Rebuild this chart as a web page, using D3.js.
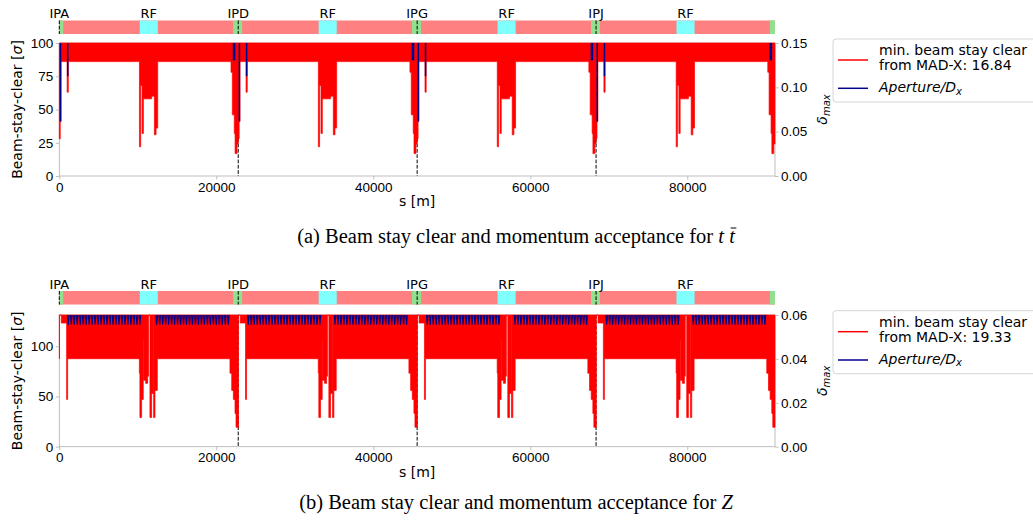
<!DOCTYPE html>
<html>
<head>
<meta charset="utf-8">
<script src="https://cdn.jsdelivr.net/npm/d3@7"></script>
<style>
  body { margin: 0; background: #fff; }
  svg { display: block; font-family: 'DejaVu Sans', sans-serif; }
  .tick text { font-size: 13.5px; fill: #000; }
  .tick line { stroke: #b0b0b0; stroke-width: 0.8; }
  .spine { stroke: #b0b0b0; stroke-width: 0.8; fill: none; }
  .label { font-size: 14px; fill: #000; }
  .strip-label { font-size: 13px; fill: #000; }
  .caption { font-family: 'Liberation Serif', 'Times New Roman', serif; font-size: 20.5px; fill: #000; }
</style>
</head>
<body>
<svg id="figure" width="1033" height="521"></svg>
<script>
// ring layout, positions in m
const circumference = 91174;
const ipPositions = [0, 22793, 45587, 68380, 91174];
const ipNames = ['IPA', 'IPD', 'IPG', 'IPJ'];
const rfPositions = [11397, 34190, 56984, 79777];
const irExtent = [-650, 500];
const rfExtent = [-1150, 1150];
const xTicks = [0, 20000, 40000, 60000, 80000];

// (a) ttbar: lower edge of the beam-stay-clear band [sigma] as steps [offset from IP / RF, value]
// values above the axis top leave the column white
const ttArcLow = 86;
const ttIrDips = [[-920, 78], [-750, 46], [-500, 32], [-400, 16.84], [-150, 24], [0, 28], [120, 41], [230, 86], [1000, 63], [1150, 86]];
const ttRfDips = [[-1190, 22], [-1030, 68], [-850, 32], [-684, 58], [370, 60], [718, 31], [930, 36], [1142, 86]];
// Aperture/Dx lines near each IP: [offset, delta]
const ttAperture = [[-600, 0.1305], [-460, 0.1305], [150, 0.0615], [1070, 0.1125]];
const ttBscTicks = [0, 25, 50, 75, 100];
const ttDeltaTicks = [0, 0.05, 0.10, 0.15];
const ttMinBsc = '16.84';

// (b) Z
const zArcLow = 87.5;
const zIrDips = [[-1050, 73], [-830, 56], [-620, 47], [-410, 33], [-280, 19.33], [30, 140], [250, 123], [930, 47], [1060, 87.5]];
const zRfDips = [[-1200, 73], [-1130, 29], [-910, 47], [-700, 106], [-650, 66], [-400, 63], [-144, 70], [-30, 140], [150, 29], [365, 53], [577, 140], [620, 29], [790, 56], [1090, 87.5]];
// Aperture/Dx comb in the arcs: segment starts and cell offsets inside a segment
const zCombStarts = [1146, 12408, 24076, 35121, 46880, 58051, 69732, 80764];
const zCombOffsets = [0, 380, 760, 1140, 1520, 1900, 2280, 2660, 3040, 3420, 3800, 4180, 4560,
  4940, 5320, 5700, 6080, 6460, 6840, 7220, 7600, 7980, 8360, 8740, 9120];
const zCombDepth = 0.0556;
const zBscTicks = [0, 50, 100];
const zDeltaTicks = [0, 0.02, 0.04, 0.06];
const zMinBsc = '19.33';

class ApertureChart {
    constructor(_config, _data) {
        this.config = {
            parentElement: _config.parentElement,
            stripTop: _config.stripTop,
            plotTop: _config.plotTop,
            plotBottom: _config.plotBottom,
            legendTop: _config.legendTop,
            bscMax: _config.bscMax,
            deltaMax: _config.deltaMax,
            left: 59.3,
            right: 775,
            stripHeight: 13.5
        };
        this.data = _data;
        this.initVis();
    }

    initVis() {
        let vis = this;
        const c = vis.config;

        vis.g = d3.select(c.parentElement).append('g');

        vis.xScale = d3.scaleLinear().domain([0, circumference]).range([c.left, c.right]);
        vis.yScale = d3.scaleLinear().domain([0, c.bscMax]).range([c.plotBottom, c.plotTop]);
        vis.y2Scale = d3.scaleLinear().domain([0, c.deltaMax]).range([c.plotBottom, c.plotTop]);

        vis.updateVis();
    }

    // merge the IP and RF dips into one step profile along the ring
    updateVis() {
        let vis = this;
        let pts = [];
        ipPositions.forEach(p => vis.data.irDips.forEach(([o, v]) => pts.push([p + o, v])));
        rfPositions.forEach(p => vis.data.rfDips.forEach(([o, v]) => pts.push([p + o, v])));
        pts.sort((a, b) => a[0] - b[0]);
        pts = pts.filter(d => d[0] >= 0 && d[0] <= circumference);
        pts.unshift([0, vis.data.arcLow]);
        pts.push([circumference, pts[pts.length - 1][1]]);
        vis.profile = pts;

        vis.renderVis();
    }

    renderVis() {
        let vis = this;
        const c = vis.config;
        const x = vis.xScale, y = vis.yScale, y2 = vis.y2Scale;

        // lattice strip
        const strip = vis.g.append('g');
        strip.append('rect')
            .attr('x', x(0)).attr('y', c.stripTop)
            .attr('width', x(circumference) - x(0)).attr('height', c.stripHeight)
            .attr('fill', '#ff8080');
        strip.selectAll('.rf').data(rfPositions).join('rect')
            .attr('x', d => x(d + rfExtent[0])).attr('y', c.stripTop)
            .attr('width', d => x(d + rfExtent[1]) - x(d + rfExtent[0])).attr('height', c.stripHeight)
            .attr('fill', '#80ffff');
        strip.selectAll('.ir').data(ipPositions).join('rect')
            .attr('x', d => x(Math.max(0, d + irExtent[0])))
            .attr('y', c.stripTop)
            .attr('width', d => x(Math.min(circumference, d + irExtent[1])) - x(Math.max(0, d + irExtent[0])))
            .attr('height', c.stripHeight)
            .attr('fill', '#90e090');
        strip.selectAll('.ipline').data(ipNames).join('line')
            .attr('x1', (d, i) => x(ipPositions[i])).attr('x2', (d, i) => x(ipPositions[i]))
            .attr('y1', c.stripTop).attr('y2', c.stripTop + c.stripHeight)
            .attr('stroke', '#000').attr('stroke-width', 1).attr('stroke-dasharray', '3.7,1.6');
        strip.selectAll('.iplabel').data(ipNames).join('text')
            .attr('class', 'strip-label')
            .attr('x', (d, i) => x(ipPositions[i])).attr('y', c.stripTop - 2.5)
            .attr('text-anchor', 'middle').text(d => d);
        strip.selectAll('.rflabel').data(rfPositions).join('text')
            .attr('class', 'strip-label')
            .attr('x', d => x(d)).attr('y', c.stripTop - 2.5)
            .attr('text-anchor', 'middle').text('RF');

        // spines
        vis.g.append('rect').attr('class', 'spine')
            .attr('x', c.left).attr('y', c.plotTop)
            .attr('width', c.right - c.left).attr('height', c.plotBottom - c.plotTop);

        // dashed IP markers (not at s = 0), behind the curves
        vis.g.selectAll('.ipdash').data(ipPositions.slice(1, 4)).join('line')
            .attr('x1', d => x(d)).attr('x2', d => x(d))
            .attr('y1', c.plotTop).attr('y2', c.plotBottom)
            .attr('stroke', '#000').attr('stroke-width', 1).attr('stroke-dasharray', '3.7,1.6');

        // min. beam stay clear
        const area = d3.area()
            .curve(d3.curveStepAfter)
            .x(d => x(d[0]))
            .y0(d => y(Math.min(d[1], c.bscMax)))
            .y1(y(c.bscMax));
        vis.g.append('path')
            .datum(vis.profile)
            .attr('d', area)
            .attr('fill', '#ff0000')
            .attr('stroke', '#ff0000')
            .attr('stroke-width', 0.7);

        // Aperture/Dx
        const blue = '#00008b';
        if (vis.data.aperture) {
            const lines = [];
            ipPositions.forEach(p => vis.data.aperture.forEach(([o, v]) => {
                if (p + o >= 0 && p + o <= circumference) lines.push([p + o, v]);
            }));
            vis.g.selectAll('.ap').data(lines).join('line')
                .attr('x1', d => x(d[0])).attr('x2', d => x(d[0]))
                .attr('y1', y2(c.deltaMax)).attr('y2', d => y2(d[1]))
                .attr('stroke', blue).attr('stroke-width', 1.5);
        }
        if (vis.data.combStarts) {
            const cells = [];
            vis.data.combStarts.forEach(s0 => vis.data.combOffsets.forEach(o => cells.push(s0 + o)));
            vis.g.selectAll('.comb').data(cells).join('path')
                .attr('d', d => `M${x(d - 100)},${y2(c.deltaMax)}L${x(d)},${y2(vis.data.combDepth)}L${x(d + 100)},${y2(c.deltaMax)}`)
                .attr('fill', 'none').attr('stroke', blue).attr('stroke-width', 1.2);
        }

        // axes
        const xAxis = d3.axisBottom(x).tickValues(xTicks).tickSize(3.5).tickPadding(2.5).tickFormat(d3.format('d'));
        const yAxis = d3.axisLeft(y).tickValues(vis.data.bscTicks).tickSize(3.5).tickPadding(2.5);
        const y2Axis = d3.axisRight(y2).tickValues(vis.data.deltaTicks).tickSize(3.5).tickPadding(2.5).tickFormat(d3.format('.2f'));
        vis.g.append('g').attr('transform', `translate(0,${c.plotBottom})`).call(xAxis).call(g => g.select('.domain').remove());
        vis.g.append('g').attr('transform', `translate(${c.left},0)`).call(yAxis).call(g => g.select('.domain').remove());
        vis.g.append('g').attr('transform', `translate(${c.right},0)`).call(y2Axis).call(g => g.select('.domain').remove());
        vis.g.selectAll('.tick text').attr('font-family', null).attr('font-size', null);

        const midY = (c.plotTop + c.plotBottom) / 2;
        vis.g.append('text').attr('class', 'label')
            .attr('x', (c.left + c.right) / 2).attr('y', c.plotBottom + 30)
            .attr('text-anchor', 'middle').text('s [m]');
        const yl = vis.g.append('text').attr('class', 'label')
            .attr('transform', `translate(22,${midY}) rotate(-90)`)
            .attr('text-anchor', 'middle');
        yl.append('tspan').text('Beam-stay-clear [');
        yl.append('tspan').attr('font-style', 'italic').text('σ');
        yl.append('tspan').text(']');
        const rl = vis.g.append('text').attr('class', 'label')
            .attr('transform', `translate(827,${midY}) rotate(-90)`)
            .attr('text-anchor', 'middle');
        rl.append('tspan').attr('font-style', 'italic').text('δ');
        rl.append('tspan').attr('font-style', 'italic').attr('font-size', '10px').attr('dy', 2.5).text('max');

        // legend
        const lg = vis.g.append('g').attr('transform', `translate(833,${c.legendTop})`);
        lg.append('rect').attr('x', 0).attr('y', 0).attr('width', 230).attr('height', 63).attr('rx', 3)
            .attr('fill', '#fff').attr('fill-opacity', 0.8).attr('stroke', '#d6d6d6').attr('stroke-width', 1);
        lg.append('line').attr('x1', 5).attr('x2', 35).attr('y1', 21).attr('y2', 21)
            .attr('stroke', '#ff0000').attr('stroke-width', 1.5);
        lg.append('line').attr('x1', 5).attr('x2', 35).attr('y1', 49.3).attr('y2', 49.3)
            .attr('stroke', blue).attr('stroke-width', 1.5);
        lg.append('text').attr('class', 'label').attr('x', 46).attr('y', 16.2).text('min. beam stay clear');
        lg.append('text').attr('class', 'label').attr('x', 46).attr('y', 31.2).text('from MAD-X: ' + vis.data.minBsc);
        const ap = lg.append('text').attr('class', 'label').attr('x', 46).attr('y', 53).attr('font-style', 'italic');
        ap.append('tspan').text('Aperture/D');
        ap.append('tspan').attr('font-size', '10px').attr('dy', 2.5).text('x');
    }
}

const svg = document.getElementById('figure');

new ApertureChart(
    {parentElement: svg, stripTop: 20.5, plotTop: 43, plotBottom: 176, legendTop: 39, bscMax: 100, deltaMax: 0.15},
    {arcLow: ttArcLow, irDips: ttIrDips, rfDips: ttRfDips, aperture: ttAperture,
     bscTicks: ttBscTicks, deltaTicks: ttDeltaTicks, minBsc: ttMinBsc});

new ApertureChart(
    {parentElement: svg, stripTop: 291, plotTop: 315, plotBottom: 446.7, legendTop: 310.7, bscMax: 131, deltaMax: 0.06},
    {arcLow: zArcLow, irDips: zIrDips, rfDips: zRfDips, combStarts: zCombStarts, combOffsets: zCombOffsets,
     combDepth: zCombDepth, bscTicks: zBscTicks, deltaTicks: zDeltaTicks, minBsc: zMinBsc});

// captions
const fig = d3.select(svg);
const capA = fig.append('text').attr('class', 'caption').attr('x', 516).attr('y', 243).attr('text-anchor', 'middle');
capA.append('tspan').text('(a) Beam stay clear and momentum acceptance for ');
capA.append('tspan').attr('font-style', 'italic').text('t');
capA.append('tspan').text(' ');
capA.append('tspan').attr('font-style', 'italic').text('t');
// bar over the second t
const lastChar = capA.node().getExtentOfChar(capA.node().textContent.length - 1);
fig.append('line')
    .attr('x1', lastChar.x + 1.5).attr('x2', lastChar.x + lastChar.width + 1.5)
    .attr('y1', 243 - 15).attr('y2', 243 - 15)
    .attr('stroke', '#000').attr('stroke-width', 1);
const capB = fig.append('text').attr('class', 'caption').attr('x', 516).attr('y', 509).attr('text-anchor', 'middle');
capB.append('tspan').text('(b) Beam stay clear and momentum acceptance for ');
capB.append('tspan').attr('font-style', 'italic').text('Z');
</script>
</body>
</html>
